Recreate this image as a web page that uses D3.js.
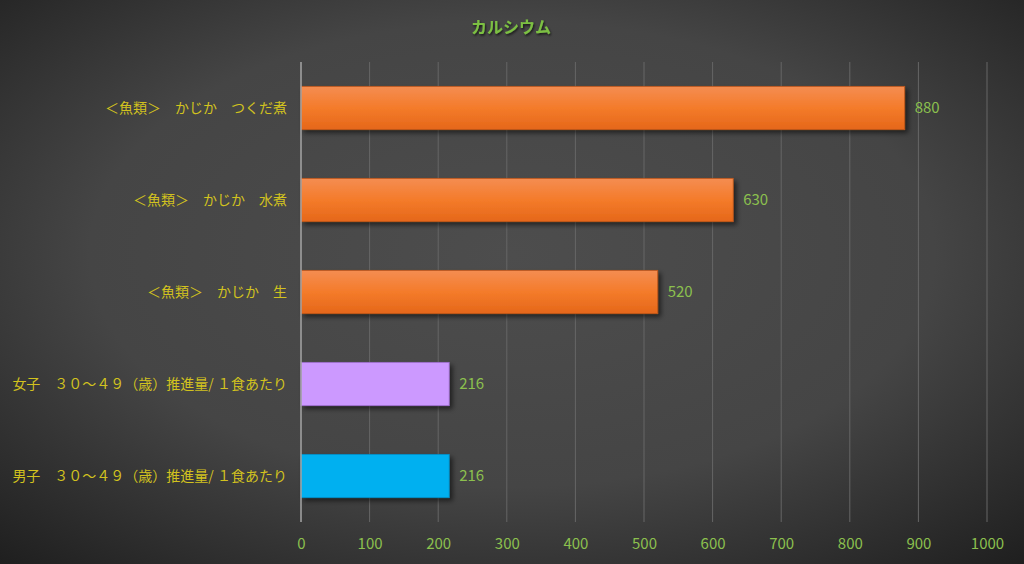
<!DOCTYPE html>
<html>
<head>
<meta charset="utf-8">
<script src="https://cdn.jsdelivr.net/npm/d3@7"></script>
<style>
  body { margin: 0; background: #333; }
  svg { display: block; }
</style>
</head>
<body>
<div id="chart"></div>
<script>
// data, top to bottom as drawn
var categories = [
  "＜魚類＞　かじか　つくだ煮",
  "＜魚類＞　かじか　水煮",
  "＜魚類＞　かじか　生",
  "女子　３０～４９（歳）推進量/ １食あたり",
  "男子　３０～４９（歳）推進量/ １食あたり"
];
var values = [880, 630, 520, 216, 216];
var barKinds = ["food", "food", "food", "female", "male"];
var xTicks = [0, 100, 200, 300, 400, 500, 600, 700, 800, 900, 1000];

var W = 1024, H = 564;
var margin = {top: 62, right: 37, bottom: 42, left: 301};
var width = W - margin.left - margin.right,
    height = H - margin.top - margin.bottom;

var svg = d3.select("#chart").append("svg")
  .attr("width", W)
  .attr("height", H);

var defs = svg.append("defs");

// background radial gradient
var bg = defs.append("radialGradient").attr("id", "bg")
  .attr("cx", "50%").attr("cy", "45%").attr("r", "75%");
bg.append("stop").attr("offset", "0%").attr("stop-color", "#4d4d4d");
bg.append("stop").attr("offset", "55%").attr("stop-color", "#454545");
bg.append("stop").attr("offset", "100%").attr("stop-color", "#1e1e1e");

var og = defs.append("linearGradient").attr("id", "orange")
  .attr("x1", 0).attr("y1", 0).attr("x2", 0).attr("y2", 1);
og.append("stop").attr("offset", "0%").attr("stop-color", "#f48d52");
og.append("stop").attr("offset", "50%").attr("stop-color", "#f47b2a");
og.append("stop").attr("offset", "100%").attr("stop-color", "#e5671a");

var sh = defs.append("filter").attr("id", "shadow")
  .attr("x", "-10%").attr("y", "-30%").attr("width", "130%").attr("height", "170%");
sh.append("feDropShadow").attr("dx", 3).attr("dy", 3).attr("stdDeviation", 2.5)
  .attr("flood-color", "#000").attr("flood-opacity", 0.55);

var tsh = defs.append("filter").attr("id", "tshadow");
tsh.append("feDropShadow").attr("dx", 1).attr("dy", 1.5).attr("stdDeviation", 1)
  .attr("flood-color", "#000").attr("flood-opacity", 0.7);

svg.append("rect").attr("width", W).attr("height", H).attr("fill", "url(#bg)");

// title
svg.append("text")
  .attr("x", 511).attr("y", 33)
  .attr("text-anchor", "middle")
  .attr("font-family", "Noto Sans CJK JP")
  .attr("font-size", "16px")
  .attr("font-weight", "bold")
  .attr("fill", "#7cc043")
  .attr("filter", "url(#tshadow)")
  .text("カルシウム");

var g = svg.append("g")
  .attr("transform", "translate(" + margin.left + "," + margin.top + ")");

var x = d3.scaleLinear().domain([0, 1000]).range([0, width]);
var y = d3.scaleBand().domain(categories).range([0, height])
  .paddingInner(0.53).paddingOuter(0.265);

// gridlines
g.append("g")
  .selectAll("line")
  .data(xTicks.slice(1))
  .enter().append("line")
  .attr("x1", d => x(d)).attr("x2", d => x(d))
  .attr("y1", 0).attr("y2", height)
  .attr("stroke", "#666")
  .attr("stroke-width", 1);

// x axis labels
var xAxis = g.append("g")
  .attr("transform", "translate(0," + height + ")")
  .call(d3.axisBottom(x).tickValues(xTicks).tickSize(0).tickPadding(16).tickFormat(d3.format("d")));
xAxis.select(".domain").remove();
xAxis.selectAll("text")
  .attr("fill", "#8cc04e")
  .attr("font-family", "Noto Sans CJK JP")
  .attr("font-size", "15px");

// bars
var fills = {food: "url(#orange)", female: "#cc99ff", male: "#00b0f0"};
var strokes = {food: "#c0561a", female: "#9e6fcf", male: "#0090c8"};
g.selectAll(".bar")
  .data(values)
  .enter().append("rect")
  .attr("class", "bar")
  .attr("x", 0)
  .attr("y", (d, i) => y(categories[i]))
  .attr("width", d => x(d))
  .attr("height", y.bandwidth())
  .attr("fill", (d, i) => fills[barKinds[i]])
  .attr("stroke", (d, i) => strokes[barKinds[i]])
  .attr("stroke-width", 0.8)
  .attr("filter", "url(#shadow)");

// y axis line
g.append("line")
  .attr("x1", 0).attr("x2", 0)
  .attr("y1", 0).attr("y2", height)
  .attr("stroke", "#a6a6a6")
  .attr("stroke-width", 1.5);

// category labels
g.selectAll(".cat")
  .data(categories)
  .enter().append("text")
  .attr("class", "cat")
  .attr("x", -14)
  .attr("y", d => y(d) + y.bandwidth() / 2)
  .attr("dy", "0.35em")
  .attr("text-anchor", "end")
  .attr("font-family", "Noto Sans CJK JP")
  .attr("font-size", "14px")
  .attr("fill", "#d2c21e")
  .text(d => d);

// value labels
g.selectAll(".val")
  .data(values)
  .enter().append("text")
  .attr("class", "val")
  .attr("x", d => x(d) + 10)
  .attr("y", (d, i) => y(categories[i]) + y.bandwidth() / 2)
  .attr("dy", "0.35em")
  .attr("font-family", "Noto Sans CJK JP")
  .attr("font-size", "15px")
  .attr("fill", "#8cc04e")
  .text(d => d);
</script>
</body>
</html>
